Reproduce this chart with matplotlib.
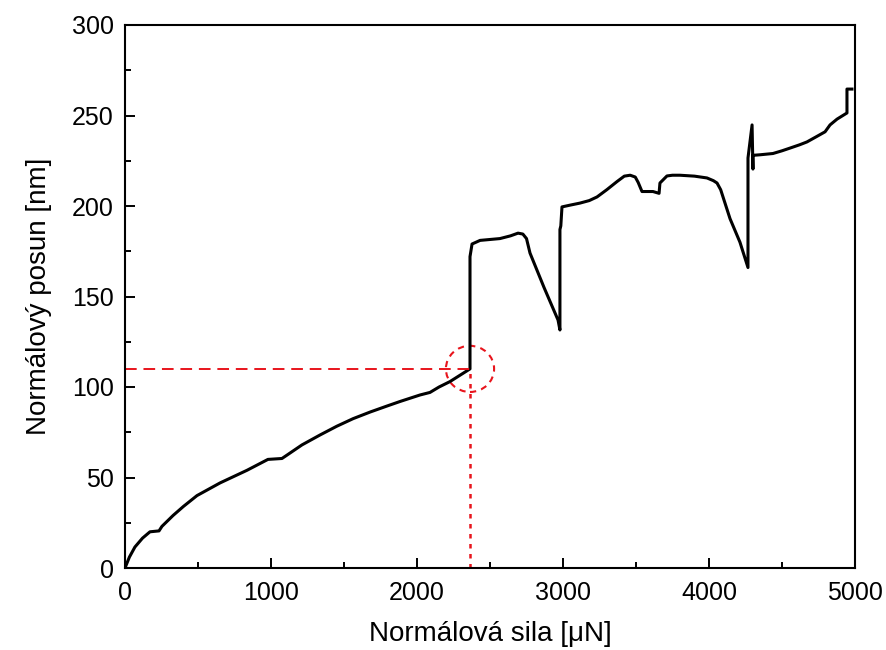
import matplotlib
matplotlib.use("Agg")
import matplotlib.pyplot as plt
from matplotlib.patches import Ellipse
from matplotlib.ticker import MultipleLocator

plt.rcParams['font.family'] = ['Liberation Sans', 'DejaVu Sans']

force = [0, 30, 68, 120, 171, 233, 253, 329, 400, 493, 651, 836, 979, 1075, 1110,
         1212, 1336, 1450, 1562, 1680, 1795, 1884, 2021, 2089, 2151, 2226, 2363, 2363,
         2363, 2377,
         2432, 2500, 2568, 2640, 2692, 2725, 2750, 2765, 2774, 2870, 2966, 2979,
         2979, 2985, 2993, 3050, 3116, 3180, 3233, 3300, 3370, 3420, 3460, 3495,
         3515, 3541, 3616, 3658, 3664, 3712, 3750, 3801, 3900, 3986, 4030, 4055,
         4080, 4100, 4144, 4212, 4267, 4267, 4295, 4301, 4301, 4350, 4438, 4500,
         4555, 4620, 4671, 4740, 4795, 4829, 4877, 4945, 4945, 4979]
posun = [0, 6, 11.6, 16.5, 20, 20.5, 23, 29, 34, 40, 47, 54, 60, 60.5, 62.4,
         68, 73.5, 78.3, 82.5, 86.2, 89.5, 92, 95.6, 97, 100, 103, 110, 150,
         172, 179,
         181, 181.5, 182, 183.5, 185, 184.5, 182, 177, 174, 155, 137, 131.5,
         187, 189, 199.5, 200.5, 201.6, 203, 205, 209, 213.5, 216.5, 217, 216,
         213, 208, 208, 207, 212.7, 216.6, 217, 217, 216.5, 215.5, 214, 212.7,
         209, 204, 193, 180, 166, 226.5, 244.8, 220.4, 228, 228.3, 229, 230.5,
         232, 233.8, 235.4, 238.5, 241, 244.8, 248, 251.4, 264.6, 264.6]

crit_force = 2363
crit_posun = 110

fig = plt.figure(figsize=(8.86, 6.5), dpi=100)
ax = fig.add_axes([125/886, 1-568/650, (855-125)/886, (568-25)/650])

ax.plot(force, posun, color='black', lw=2.2, solid_joinstyle='round')
ax.plot([0, crit_force], [crit_posun, crit_posun], color='#e8141c', lw=1.4,
        dashes=(6, 3.5))
ax.plot([crit_force, crit_force], [0, crit_posun], color='#e8141c', lw=1.8,
        dashes=(1.8, 2.2))
ax.add_patch(Ellipse((crit_force, crit_posun), width=330, height=25.5,
                     fill=False, edgecolor='#e8141c', lw=1.5, ls=(0, (3, 2.5))))

ax.set_xlim(0, 5000)
ax.set_ylim(0, 300)
ax.xaxis.set_major_locator(MultipleLocator(1000))
ax.xaxis.set_minor_locator(MultipleLocator(500))
ax.yaxis.set_major_locator(MultipleLocator(50))
ax.yaxis.set_minor_locator(MultipleLocator(25))
ax.tick_params(which='both', direction='in', top=False, right=False,
               labelsize=18, width=1.4)
ax.tick_params(which='major', length=7.5)
ax.tick_params(which='minor', length=4.5)
ax.tick_params(axis='x', pad=9)
ax.tick_params(axis='y', pad=8)
for s in ax.spines.values():
    s.set_linewidth(1.5)

ax.set_xlabel('Normálová sila [μN]', fontsize=20, labelpad=12)
ax.set_ylabel('Normálový posun [nm]', fontsize=20, labelpad=14)

fig.savefig('out.png', dpi=100)
